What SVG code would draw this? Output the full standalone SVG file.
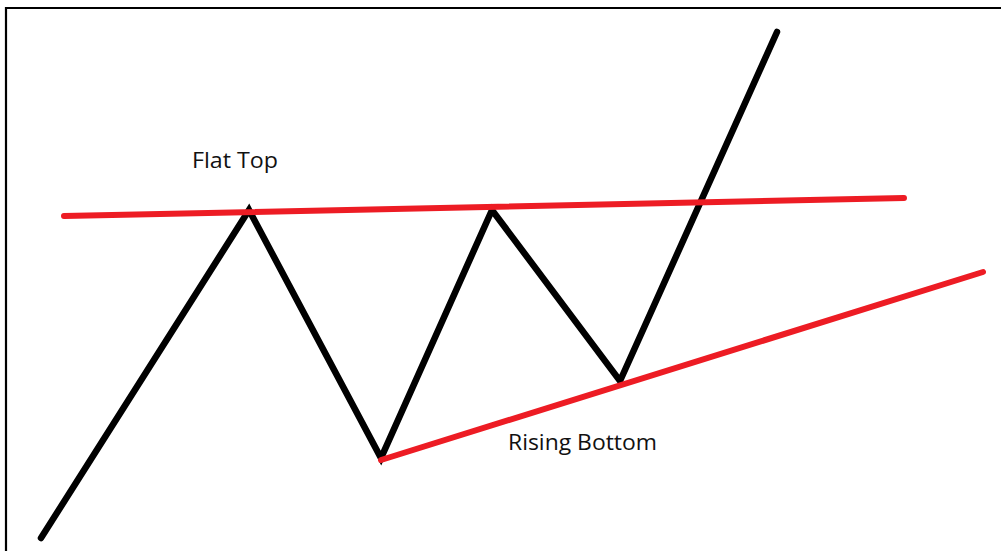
<svg xmlns="http://www.w3.org/2000/svg" width="1001" height="551" viewBox="0 0 1001 551">
<style>
.frame{fill:none;stroke:#000;stroke-width:2.2}
.price{fill:none;stroke:#000;stroke-width:6.5;stroke-linejoin:miter;stroke-linecap:round}
.trend{fill:none;stroke:#ed1c24;stroke-width:6;stroke-linecap:round}
.lbl{font-family:"Open Sans","Liberation Sans",sans-serif;font-size:21.5px;fill:#111}
</style>
<rect width="1001" height="551" fill="#fff"/>
<path class="frame" d="M6,551 V8 H1001"/>
<g id="price-line">
<path class="price" d="M41,538 L249,210 L381,458 L492,210 L620,381 L777,32"/>
</g>
<g id="connectors">
<line class="trend" x1="64" y1="216" x2="904" y2="198"/>
<line class="trend" x1="381" y1="460" x2="983" y2="272"/>
</g>
<g id="flat-top"><text class="lbl" x="192" y="168" textLength="86" lengthAdjust="spacingAndGlyphs">Flat Top</text></g>
<g id="rising-bottom"><text class="lbl" x="508" y="450" textLength="149" lengthAdjust="spacingAndGlyphs">Rising Bottom</text></g>
</svg>
